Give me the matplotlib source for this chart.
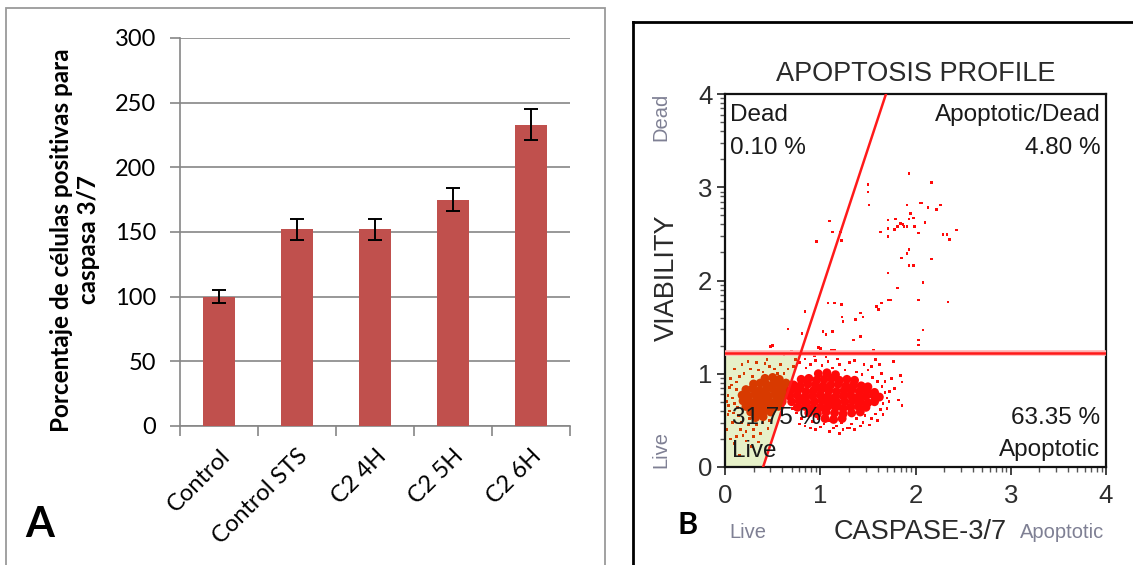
import matplotlib.pyplot as plt
import numpy as np
from matplotlib.patches import Rectangle, Polygon
from matplotlib.lines import Line2D

# ---- panel A: bar chart ----
categorias = ['Control', 'Control STS', 'C2 4H', 'C2 5H', 'C2 6H']
porcentaje = [100, 152, 152, 175, 233]
error = [5, 8, 8, 9, 12]
ticks_a = [0, 50, 100, 150, 200, 250, 300]

# ---- panel B: apoptosis profile (log10 units) ----
gate_viab = 1.22          # horizontal gate
diag_x0 = 0.40            # diagonal gate at viability 0
diag_x4 = 1.69            # diagonal gate at viability 4
quadrantes = {'dead': '0.10 %', 'apop_dead': '4.80 %',
              'live': '31.75 %', 'apop': '63.35 %'}

# dense core of the live population
live_dense = [
    (0.42, 0.95), (0.50, 0.96), (0.57, 0.94),
    (0.30, 0.89), (0.37, 0.90), (0.44, 0.88), (0.51, 0.89), (0.58, 0.88), (0.64, 0.90),
    (0.22, 0.83), (0.29, 0.84), (0.36, 0.82), (0.43, 0.83), (0.50, 0.84), (0.57, 0.82), (0.63, 0.83),
    (0.18, 0.77), (0.25, 0.76), (0.32, 0.78), (0.39, 0.77), (0.46, 0.76), (0.53, 0.78), (0.60, 0.77),
    (0.19, 0.71), (0.26, 0.70), (0.33, 0.71), (0.40, 0.72), (0.47, 0.70), (0.54, 0.71), (0.60, 0.70),
    (0.22, 0.65), (0.29, 0.64), (0.36, 0.65), (0.43, 0.66), (0.50, 0.64), (0.56, 0.65),
    (0.27, 0.59), (0.34, 0.58), (0.41, 0.60), (0.48, 0.59),
    (0.32, 0.53), (0.40, 0.54),
]

# dense core of the apoptotic population
apop_dense = [
    (0.98, 1.00), (1.07, 1.01), (1.16, 0.99),
    (0.80, 0.94), (0.88, 0.95), (0.96, 0.93), (1.04, 0.94), (1.12, 0.95), (1.20, 0.93), (1.28, 0.94), (1.36, 0.93),
    (0.72, 0.88), (0.79, 0.87), (0.87, 0.89), (0.95, 0.88), (1.03, 0.87), (1.11, 0.88), (1.19, 0.89),
    (1.27, 0.87), (1.35, 0.88), (1.43, 0.87), (1.50, 0.86),
    (0.69, 0.82), (0.77, 0.83), (0.85, 0.81), (0.93, 0.82), (1.01, 0.83), (1.09, 0.82), (1.17, 0.81),
    (1.25, 0.82), (1.33, 0.83), (1.41, 0.81), (1.49, 0.82), (1.57, 0.80),
    (0.68, 0.76), (0.76, 0.77), (0.84, 0.75), (0.92, 0.76), (1.00, 0.77), (1.08, 0.76), (1.16, 0.75),
    (1.24, 0.76), (1.32, 0.77), (1.40, 0.75), (1.48, 0.76), (1.56, 0.77), (1.62, 0.75),
    (0.70, 0.70), (0.78, 0.71), (0.86, 0.69), (0.94, 0.70), (1.02, 0.71), (1.10, 0.70), (1.18, 0.69),
    (1.26, 0.70), (1.34, 0.71), (1.42, 0.70), (1.50, 0.69), (1.57, 0.70),
    (0.76, 0.64), (0.84, 0.65), (0.92, 0.63), (1.00, 0.64), (1.08, 0.65), (1.16, 0.64), (1.24, 0.63),
    (1.32, 0.64), (1.40, 0.65), (1.48, 0.64),
    (0.88, 0.58), (0.97, 0.57), (1.06, 0.59), (1.15, 0.58), (1.24, 0.57), (1.33, 0.58), (1.42, 0.59),
    (1.05, 0.52), (1.14, 0.51), (1.23, 0.52),
]

# single events
eventos = [
    # around the apoptotic cloud
    (0.66, 1.05), (0.72, 1.08), (0.78, 1.12), (0.85, 1.06), (0.90, 1.10), (0.95, 1.14), (1.02, 1.09),
    (1.08, 1.13), (1.13, 1.06), (1.20, 1.10), (1.26, 1.04), (1.31, 1.12), (1.38, 1.02), (1.44, 0.99),
    (1.50, 1.04), (1.55, 0.96), (1.60, 0.92), (1.65, 0.86), (1.68, 0.80), (1.70, 0.74), (1.66, 0.68),
    (1.63, 0.62), (1.58, 0.57), (1.54, 0.52), (1.47, 0.55), (1.45, 0.48), (1.38, 0.52), (1.33, 0.46),
    (1.28, 0.42), (1.22, 0.48), (1.17, 0.44), (1.10, 0.50), (1.04, 0.46), (0.98, 0.52), (0.92, 0.49),
    (0.86, 0.55), (0.80, 0.52), (0.75, 0.58), (0.71, 0.63), (0.95, 0.40), (1.24, 0.40), (1.31, 0.42),
    (1.52, 0.45), (1.10, 0.38), (1.77, 1.13), (1.84, 0.98), (1.86, 0.91), (1.82, 0.72), (1.86, 0.66),
    (1.73, 0.81), (1.70, 0.63), (1.78, 0.84), (1.75, 0.95), (1.62, 1.10), (1.58, 1.15),
    (0.78, 0.46), (0.84, 0.44), (0.90, 0.42), (1.00, 0.43), (1.14, 0.42), (1.20, 0.36), (1.36, 0.40),
    (1.42, 0.44), (1.60, 0.50), (1.66, 0.56), (1.72, 0.70), (1.68, 0.92), (1.64, 1.00), (1.54, 1.08),
    (1.46, 1.10), (1.36, 1.14), (1.18, 1.16), (1.06, 1.18), (0.94, 1.19), (0.84, 1.16), (0.74, 1.15),
    # around the live cloud
    (0.03, 0.77), (0.12, 0.91), (0.08, 0.48), (0.19, 0.34), (0.30, 0.33), (0.37, 0.36), (0.45, 0.41),
    (0.16, 0.40), (0.44, 1.15), (0.42, 1.11), (0.35, 1.04), (0.05, 0.60), (0.10, 0.68), (0.14, 0.55),
    (0.12, 0.83), (0.06, 0.95), (0.20, 1.00), (0.27, 1.05), (0.33, 1.12), (0.40, 1.02), (0.52, 1.05),
    (0.58, 1.10), (0.62, 1.00), (0.55, 1.00), (0.47, 1.08), (0.25, 0.45), (0.33, 0.45), (0.40, 0.48),
    (0.47, 0.50), (0.22, 0.28), (0.10, 0.25), (0.28, 0.22), (0.15, 0.12), (0.02, 0.40), (0.35, 0.27),
    (0.05, 0.85), (0.17, 0.48), (0.26, 0.52),
    (0.02, 0.70), (0.04, 0.66), (0.08, 0.74), (0.03, 0.56), (0.09, 0.58), (0.13, 0.64), (0.07, 0.88),
    (0.15, 0.97), (0.10, 1.05), (0.18, 1.10), (0.24, 1.13), (0.29, 0.97), (0.12, 0.33), (0.06, 0.30),
    (0.22, 0.38), (0.30, 0.40),
    # just above the gate
    (0.50, 1.30), (0.48, 1.29), (0.98, 1.28), (1.00, 1.27), (1.12, 1.25), (1.15, 1.25), (1.56, 1.25),
    (1.43, 1.22), (0.88, 1.22), (0.70, 1.24), (0.62, 1.20),
    # apoptotic / dead
    (1.93, 3.15), (2.17, 3.05), (1.50, 3.03), (1.50, 2.95), (1.51, 2.81), (1.91, 2.81), (2.05, 2.83),
    (2.07, 2.83), (2.13, 2.78), (2.22, 2.76), (2.26, 2.81), (1.95, 2.72), (1.98, 2.67), (1.93, 2.66),
    (1.84, 2.61), (1.87, 2.60), (1.81, 2.58), (1.78, 2.55), (1.71, 2.65), (1.71, 2.56), (1.63, 2.52),
    (1.79, 2.66), (1.88, 2.58), (1.91, 2.58), (1.99, 2.58), (2.03, 2.51), (2.10, 2.62), (2.29, 2.49),
    (2.33, 2.49), (2.36, 2.44), (2.43, 2.54), (1.71, 2.47), (1.10, 2.64), (1.13, 2.52), (1.21, 2.52),
    (1.22, 2.43), (0.96, 2.42), (1.93, 2.33), (1.91, 2.29), (1.85, 2.24), (1.93, 2.16), (1.98, 2.16),
    (2.17, 2.23), (1.71, 2.08), (2.08, 1.98), (1.81, 1.92), (1.71, 1.79), (1.74, 1.79), (2.03, 1.79),
    (2.34, 1.77), (1.08, 1.76), (1.15, 1.76), (1.22, 1.74), (1.59, 1.72), (1.61, 1.69), (1.64, 1.76),
    (0.84, 1.67), (1.23, 1.61), (1.24, 1.56), (1.42, 1.65), (1.45, 1.61), (1.37, 1.58), (2.08, 1.47),
    (0.66, 1.48), (1.03, 1.45), (1.13, 1.45), (1.06, 1.42), (1.42, 1.40), (1.35, 1.36), (2.03, 1.36),
    (0.81, 1.43), (0.98, 1.28), (1.56, 1.25), (2.03, 1.31),
]

W, H = 1133, 565
fig = plt.figure(figsize=(W / 100, H / 100), dpi=100)

# ================= panel A =================
fuente_a = ['Lato', 'DejaVu Sans']
gris = '#868686'
axA = fig.add_axes([180 / W, 1 - 426 / H, 390 / W, 388 / H])
x = np.arange(len(categorias))
axA.bar(x, porcentaje, width=0.4, color='#c0504d', zorder=3)
axA.errorbar(x, porcentaje, yerr=error, fmt='none', ecolor='black',
             elinewidth=1.4, capsize=5, capthick=1.4, zorder=4)
axA.set_xlim(-0.5, len(categorias) - 0.5)
axA.set_ylim(0, 300)
axA.set_yticks(ticks_a)
axA.set_yticklabels([str(t) for t in ticks_a], family=fuente_a, fontsize=17)
axA.yaxis.grid(True, color=gris, lw=1.2)
axA.set_axisbelow(True)
axA.set_xticks(x)
axA.set_xticklabels(categorias, rotation=45, ha='right', va='top',
                    rotation_mode='anchor', family=fuente_a, fontsize=17)
axA.set_xticks(np.arange(-0.5, len(categorias)), minor=True)
axA.tick_params(axis='x', which='major', length=0, pad=14)
axA.tick_params(axis='x', which='minor', length=7, color=gris, width=1.2)
axA.tick_params(axis='y', length=7, color=gris, width=1.2, pad=10)
for s in ['top', 'right']:
    axA.spines[s].set_visible(False)
for s in ['left', 'bottom']:
    axA.spines[s].set_color(gris)
    axA.spines[s].set_linewidth(1.2)
axA.set_ylabel('Porcentaje de células positivas para\ncaspasa 3/7',
               family=fuente_a, fontsize=17.5, fontweight='bold', linespacing=1.2)
axA.yaxis.set_label_coords(-0.205, 0.48)

fig.text(40 / W, 1 - 525 / H, 'A', family=fuente_a, fontsize=30,
         fontweight='bold', ha='center', va='center')
fig.add_artist(Rectangle((6 / W, -0.02), 599 / W, (H - 8) / H + 0.02,
                         transform=fig.transFigure, fill=False,
                         ec='#9a9a9a', lw=1.3))

# ================= panel B =================
fuente_b = ['Liberation Sans', 'DejaVu Sans']
axB = fig.add_axes([725 / W, 1 - 467 / H, 381 / W, 373 / H])
axB.set_xlim(0, 4)
axB.set_ylim(0, 4)

pend = (diag_x4 - diag_x0) / 4.0
x_cruce = diag_x0 + pend * gate_viab
axB.add_patch(Polygon([(0, 0), (diag_x0, 0), (x_cruce, gate_viab), (0, gate_viab)],
                      closed=True, fc='#e6f0c8', ec='none', zorder=0))


def en_live(px, py):
    return py < gate_viab and px < diag_x0 + pend * py


c_live, c_apop = '#d83a00', '#ff0a0a'
for lista, tam, marca in [(live_dense, 6.4, 'o'), (apop_dense, 6.4, 'o'), (eventos, 1.9, 's')]:
    xs = [p[0] for p in lista]
    ys = [p[1] for p in lista]
    cols = [c_live if en_live(a, b) else c_apop for a, b in lista]
    axB.scatter(xs, ys, s=tam ** 2, marker=marca, c=cols, linewidths=0, zorder=2)

axB.plot([0, 4], [gate_viab, gate_viab], color='#ffb0b0', lw=4, zorder=3,
         solid_capstyle='butt')
axB.plot([0, 4], [gate_viab, gate_viab], color='#ff1a1a', lw=1.8, zorder=3)
axB.plot([diag_x0, diag_x4], [0, 4], color='#ff1a1a', lw=1.8, zorder=3)

for s in axB.spines.values():
    s.set_linewidth(1.6)
    s.set_color('#111111')

mayores = [0, 1, 2, 3, 4]
menores = [n + np.log10(k) for n in range(4) for k in range(2, 10)]
for eje in (axB.xaxis, axB.yaxis):
    eje.set_ticks(mayores)
    eje.set_ticks(menores, minor=True)
axB.set_xticklabels([str(m) for m in mayores], family=fuente_b, fontsize=18.5, color='#2e2e2e')
axB.set_yticklabels([str(m) for m in mayores], family=fuente_b, fontsize=18.5, color='#2e2e2e')
axB.tick_params(which='major', length=6, width=1.3, color='#333333', pad=3)
axB.tick_params(axis='x', which='major', pad=6)
axB.tick_params(which='minor', length=3.5, width=1.0, color='#555555')

tq = dict(family=fuente_b, fontsize=17.5, color='#1a1a1a', zorder=5)
axB.text(0.05, 3.77, 'Dead', ha='left', va='center', **tq)
axB.text(0.05, 3.42, quadrantes['dead'], ha='left', va='center', **tq)
axB.text(3.94, 3.77, 'Apoptotic/Dead', ha='right', va='center', **tq)
axB.text(3.94, 3.42, quadrantes['apop_dead'], ha='right', va='center', **tq)
axB.text(0.07, 0.525, quadrantes['live'], ha='left', va='center', **tq)
axB.text(0.07, 0.17, 'Live', ha='left', va='center', **tq)
axB.text(3.94, 0.525, quadrantes['apop'], ha='right', va='center', **tq)
axB.text(3.94, 0.18, 'Apoptotic', ha='right', va='center', **tq)

fig.text(916 / W, 1 - 74 / H, 'APOPTOSIS PROFILE', family=fuente_b, fontsize=19.5,
         color='#2a2a2a', ha='center', va='center')
fig.text(667 / W, 1 - 278 / H, 'VIABILITY', family=fuente_b, fontsize=19.5,
         color='#2a2a2a', rotation=90, ha='center', va='center')
fig.text(920 / W, 1 - 532 / H, 'CASPASE-3/7', family=fuente_b, fontsize=19.5,
         color='#2a2a2a', ha='center', va='center')
pequeno = dict(family=fuente_b, fontsize=14.5, color='#7f8094', ha='center', va='center')
fig.text(661 / W, 1 - 117 / H, 'Dead', rotation=90, **pequeno)
fig.text(661 / W, 1 - 450 / H, 'Live', rotation=90, **pequeno)
fig.text(748 / W, 1 - 532 / H, 'Live', **pequeno)
fig.text(1062 / W, 1 - 533 / H, 'Apoptotic', **pequeno)

fig.text(688 / W, 1 - 525 / H, 'B', family=fuente_a, fontsize=22,
         fontweight='bold', ha='center', va='center')

fig.add_artist(Line2D([633 / W, 633 / W], [1 - 22 / H, 0], color='black', lw=2,
                      transform=fig.transFigure))
fig.add_artist(Line2D([633 / W, 1], [1 - 22 / H, 1 - 22 / H], color='black', lw=2,
                      transform=fig.transFigure))

fig.savefig('out.png', dpi=100)
